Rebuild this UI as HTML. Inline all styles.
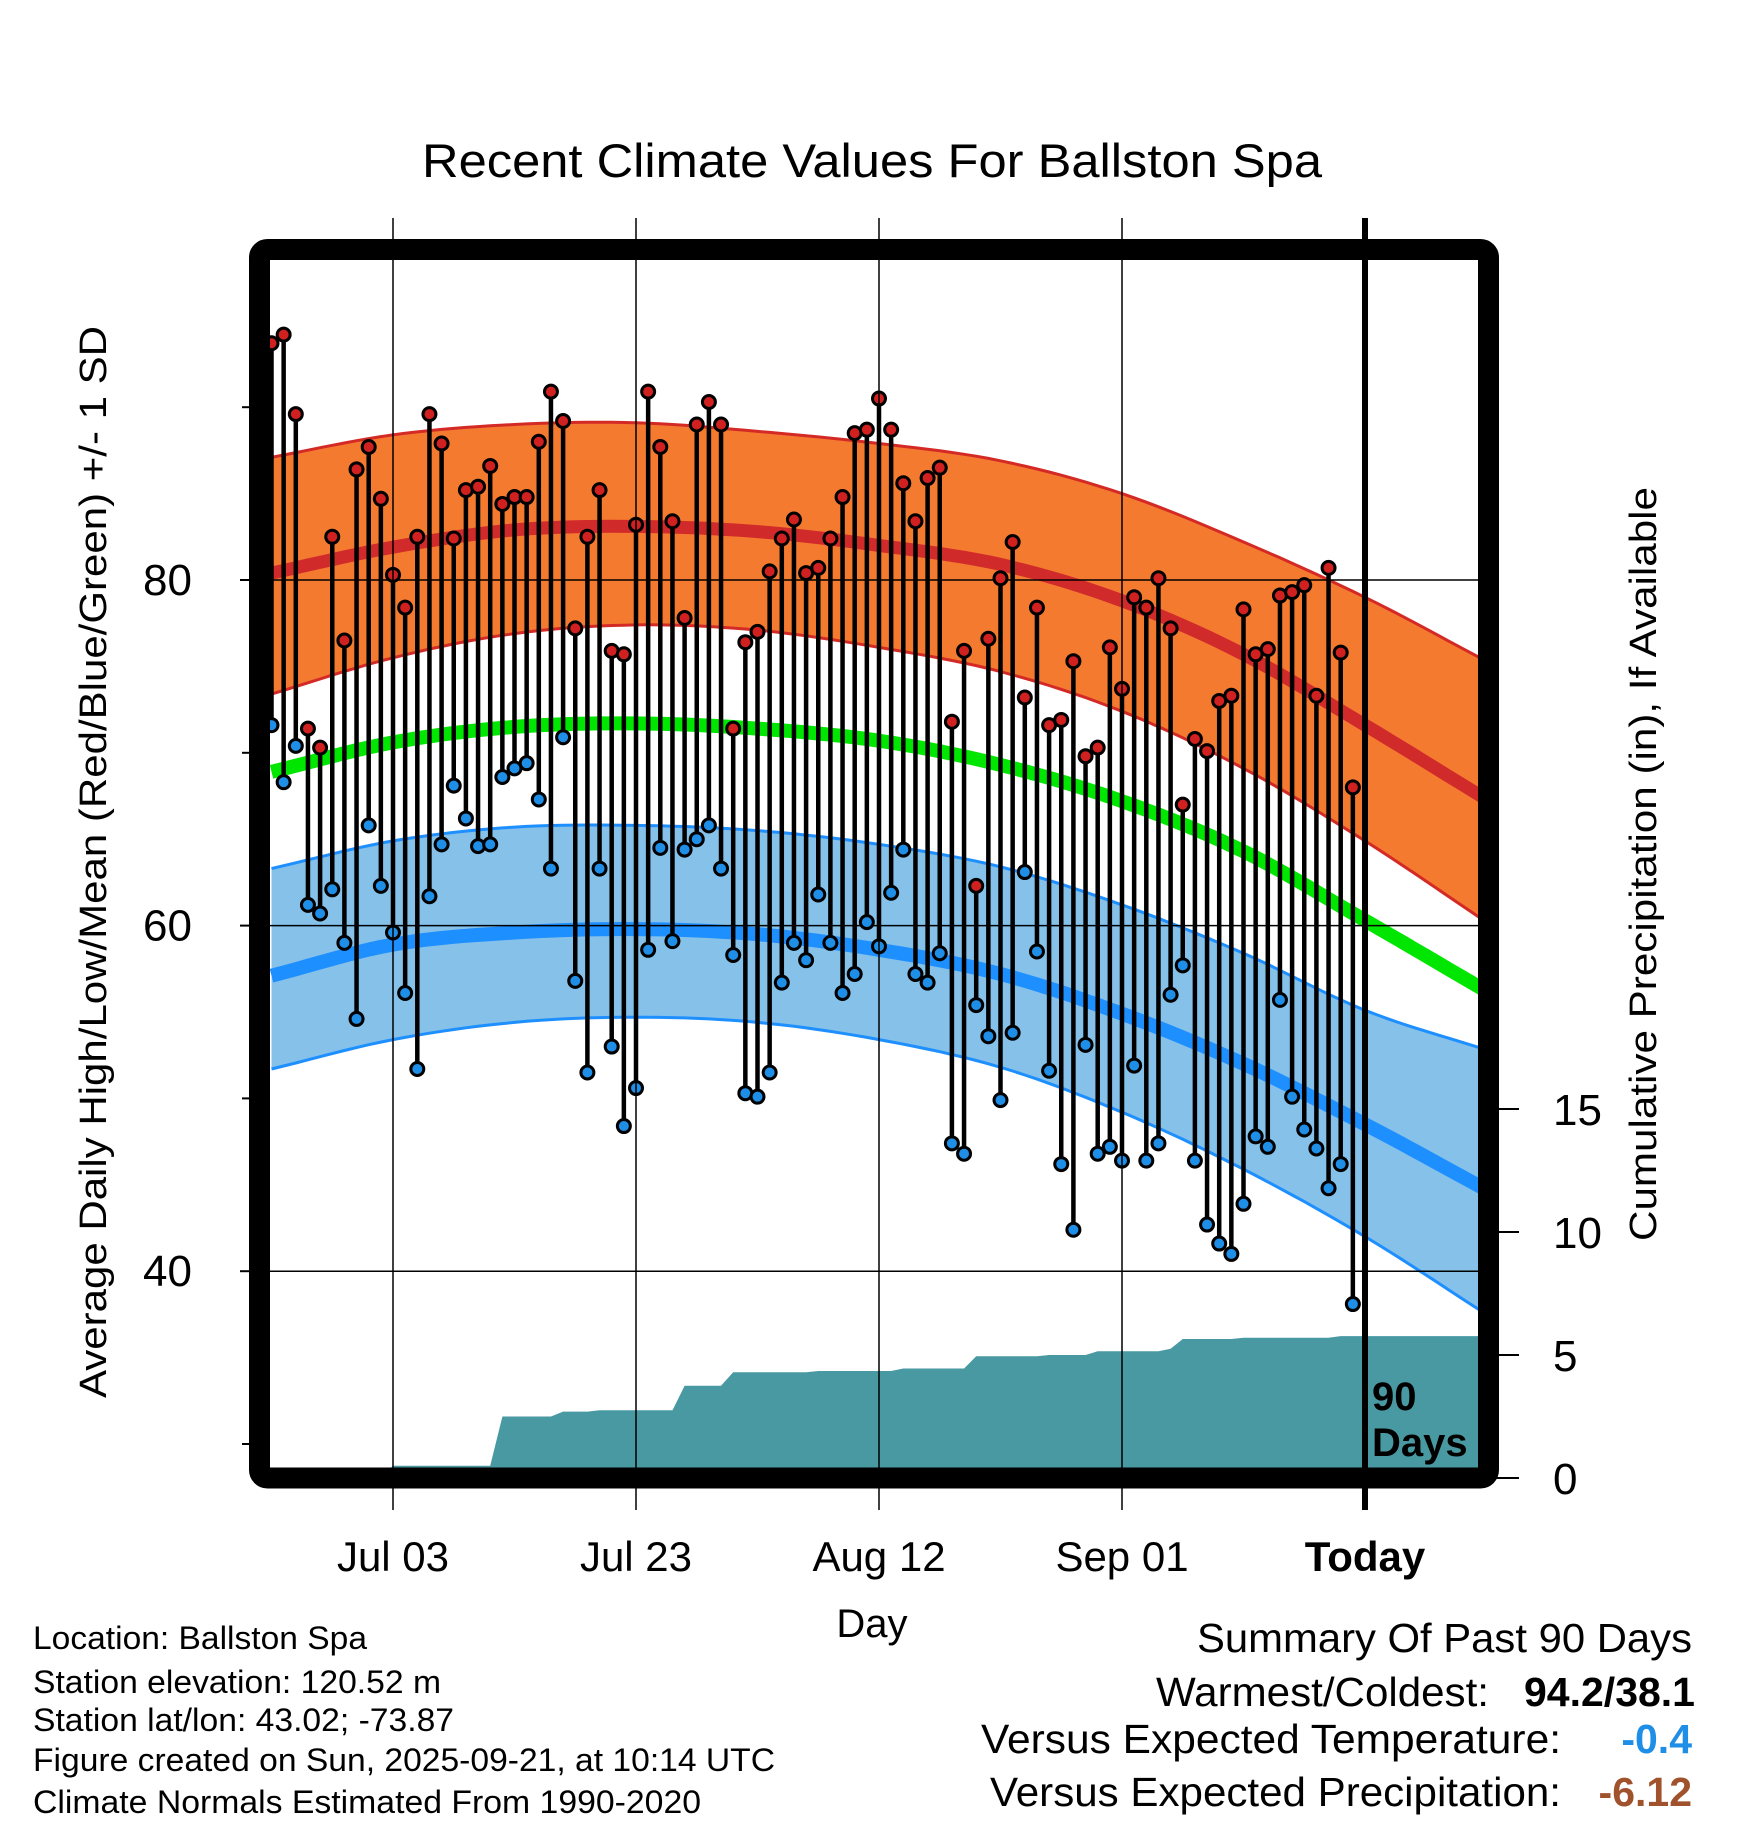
<!DOCTYPE html>
<html><head><meta charset="utf-8"><style>
html,body{margin:0;padding:0;background:#fff;}
svg{display:block;font-family:"Liberation Sans",sans-serif;}
</style></head><body>
<svg id="chart" width="1748" height="1828" viewBox="0 0 1748 1828" xmlns="http://www.w3.org/2000/svg">
<defs><clipPath id="plotclip"><rect x="270" y="260" width="1208" height="1208"/></clipPath></defs>
<rect width="1748" height="1828" fill="#fff"/>
<text x="872" y="177" font-size="47" text-anchor="middle" textLength="900" lengthAdjust="spacingAndGlyphs">Recent Climate Values For Ballston Spa</text>
<g id="plot" clip-path="url(#plotclip)"></g>
<g id="axes"></g>
<rect x="259.5" y="249.5" width="1229" height="1228.5" rx="8" fill="none" stroke="#000" stroke-width="21"/>
<g id="overlay"></g>
<text transform="translate(106,862) rotate(-90)" font-size="38" text-anchor="middle" textLength="1072" lengthAdjust="spacingAndGlyphs">Average Daily High/Low/Mean (Red/Blue/Green) +/- 1 SD</text>
<text transform="translate(1656,864) rotate(-90)" font-size="38" text-anchor="middle" textLength="754" lengthAdjust="spacingAndGlyphs">Cumulative Precipitation (in), If Available</text>
<text x="872" y="1637" font-size="40" text-anchor="middle">Day</text>
<g font-size="32">
<text x="33" y="1649" textLength="334" lengthAdjust="spacingAndGlyphs">Location: Ballston Spa</text>
<text x="33" y="1693" textLength="408" lengthAdjust="spacingAndGlyphs">Station elevation: 120.52 m</text>
<text x="33" y="1731" textLength="421" lengthAdjust="spacingAndGlyphs">Station lat/lon: 43.02; -73.87</text>
<text x="33" y="1771" textLength="742" lengthAdjust="spacingAndGlyphs">Figure created on Sun, 2025-09-21, at 10:14 UTC</text>
<text x="33" y="1813" textLength="668" lengthAdjust="spacingAndGlyphs">Climate Normals Estimated From 1990-2020</text>
</g>
<g font-size="41">
<text x="1197" y="1652" textLength="495" lengthAdjust="spacingAndGlyphs">Summary Of Past 90 Days</text>
<text x="1156" y="1706" textLength="333" lengthAdjust="spacingAndGlyphs">Warmest/Coldest:</text>
<text x="1524" y="1706" font-weight="bold" textLength="171" lengthAdjust="spacingAndGlyphs">94.2/38.1</text>
<text x="981" y="1753" textLength="580" lengthAdjust="spacingAndGlyphs">Versus Expected Temperature:</text>
<text x="1692" y="1753" text-anchor="end" font-weight="bold" fill="#1e8ee6">-0.4</text>
<text x="990" y="1806" textLength="571" lengthAdjust="spacingAndGlyphs">Versus Expected Precipitation:</text>
<text x="1692" y="1806" text-anchor="end" font-weight="bold" fill="#a0522d">-6.12</text>
</g>
</svg>
<script>
const highs=[93.7,94.2,89.6,71.4,70.3,82.5,76.5,86.4,87.7,84.7,80.3,78.4,82.5,89.6,87.9,82.4,85.2,85.4,86.6,84.4,84.8,84.8,88.0,90.9,89.2,77.2,82.5,85.2,75.9,75.7,83.2,90.9,87.7,83.4,77.8,89.0,90.3,89.0,71.4,76.4,77.0,80.5,82.4,83.5,80.4,80.7,82.4,84.8,88.5,88.7,90.5,88.7,85.6,83.4,85.9,86.5,71.8,75.9,62.3,76.6,80.1,82.2,73.2,78.4,71.6,71.9,75.3,69.8,70.3,76.1,73.7,79.0,78.4,80.1,77.2,67.0,70.8,70.1,73.0,73.3,78.3,75.7,76.0,79.1,79.3,79.7,73.3,80.7,75.8,68.0];
const lows=[71.6,68.3,70.4,61.2,60.7,62.1,59.0,54.6,65.8,62.3,59.6,56.1,51.7,61.7,64.7,68.1,66.2,64.6,64.7,68.6,69.1,69.4,67.3,63.3,70.9,56.8,51.5,63.3,53.0,48.4,50.6,58.6,64.5,59.1,64.4,65.0,65.8,63.3,58.3,50.3,50.1,51.5,56.7,59.0,58.0,61.8,59.0,56.1,57.2,60.2,58.8,61.9,64.4,57.2,56.7,58.4,47.4,46.8,55.4,53.6,49.9,53.8,63.1,58.5,51.6,46.2,42.4,53.1,46.8,47.2,46.4,51.9,46.4,47.4,56.0,57.7,46.4,42.7,41.6,41.0,43.9,47.8,47.2,55.7,50.1,48.2,47.1,44.8,46.2,38.1];
const dailyPrecip=[0,0,0,0,0,0,0,0,0,0,0.5,0,0,0,0,0,0,0,0,2.0,0,0,0,0,0.2,0,0,0.05,0,0,0,0,0,0,1.0,0,0,0,0.55,0,0,0,0,0,0,0.05,0,0,0,0,0,0,0.1,0,0,0,0,0,0.5,0,0,0,0,0,0.05,0,0,0,0.15,0,0,0,0,0,0.1,0.4,0,0,0,0,0.05,0,0,0,0,0,0,0,0.07,0];
const normDays=[0,10,20,30,40,50,60,70,80,90,100];
const normHigh=[80.4,81.9,82.9,83.1,82.8,82.0,80.9,78.8,75.7,71.6,67.3];
const normHighUp=[87.1,88.4,89.0,89.1,88.6,87.9,86.9,85.0,82.2,79.0,75.3];
const normHighLo=[73.4,75.5,76.9,77.4,77.1,76.1,74.7,72.4,69.1,64.9,60.2];
const normMean=[68.9,70.6,71.5,71.7,71.4,70.7,69.3,67.2,64.3,60.3,56.2];
const normLow=[57.1,58.9,59.6,59.8,59.5,58.6,57.2,54.9,52.0,48.5,44.7];
const normLowUp=[63.3,64.9,65.7,65.8,65.5,64.7,63.4,61.2,58.4,55.1,52.8];
const normLowLo=[51.7,53.4,54.4,54.7,54.4,53.4,51.8,49.2,45.9,42.0,37.5];
const xTickDays=[10,30,50,70,90];
const xTickLabels=["Jul 03","Jul 23","Aug 12","Sep 01","Today"];
const yMajor=[80,60,40];
const yMinor=[90,70,50,30];
const pTicks=[0,5,10,15];

const NS="http://www.w3.org/2000/svg";
const X=d=>271.5+d*12.15;
const Y=t=>580-(t-80)*17.28;
const YP=p=>1478-p*24.6;
function mk(tag,attrs,parent){const e=document.createElementNS(NS,tag);for(const k in attrs)e.setAttribute(k,attrs[k]);parent.appendChild(e);return e;}
function curve(vals){
  const n=vals.length,pts=[];
  const ext=i=>{if(i<0)return 2*vals[0]-vals[1];if(i>=n)return 2*vals[n-1]-vals[n-2];return vals[i];};
  for(let s=0;s<n-1;s++){
    const p0=ext(s-1),p1=vals[s],p2=vals[s+1],p3=ext(s+2);
    for(let k=0;k<10;k++){const t=k/10;
      const v=0.5*((2*p1)+(-p0+p2)*t+(2*p0-5*p1+4*p2-p3)*t*t+(-p0+3*p1-3*p2+p3)*t*t*t);
      pts.push([X(normDays[s]+t*(normDays[s+1]-normDays[s])),Y(v)]);}
  }
  pts.push([X(normDays[n-1]),Y(vals[n-1])]);
  return pts;
}
const ps=p=>p.map(q=>q[0].toFixed(1)+","+q[1].toFixed(1)).join(" ");
const plot=document.getElementById('plot');
const axes=document.getElementById('axes');
const overlay=document.getElementById('overlay');

function band(up,lo,fill,edge,name){
  const a=curve(up),b=curve(lo).reverse();
  const poly=mk('polygon',{points:ps(a.concat(b)),fill:fill},plot);
  
  
  const l1=mk('polyline',{points:ps(a),fill:'none',stroke:edge,'stroke-width':3},plot);
  
  
  const l2=mk('polyline',{points:ps(curve(lo)),fill:'none',stroke:edge,'stroke-width':3},plot);
  
  
}
band(normHighUp,normHighLo,'#f47a30','#d42a26','high-sd-band');
band(normLowUp,normLowLo,'#85c1e9','#1e8fff','low-sd-band');
function nline(vals,color,w,name){
  const l=mk('polyline',{points:ps(curve(vals)),fill:'none',stroke:color,'stroke-width':w},plot);
  
  
}
nline(normHigh,'#d12a2a',13,'normal-high-line');
nline(normMean,'#00e600',14,'normal-mean-line');
nline(normLow,'#1e8fff',14,'normal-low-line');

let cum=0;const pp=[];
dailyPrecip.forEach((v,i)=>{cum+=v;pp.push([X(i),YP(cum)]);});
pp.push([1480,YP(cum)]);
const area=mk('polygon',{points:ps([[X(0),YP(0)]].concat(pp,[[1480,YP(0)]])),fill:'#4899a2'},plot);



yMajor.forEach(t=>{
  const g=mk('line',{x1:270,x2:1478,y1:Y(t),y2:Y(t),stroke:'#000','stroke-width':1.5},plot);
  
  
});
xTickDays.forEach((d,i)=>{
  if(i===xTickDays.length-1)return;
  const g=mk('line',{x1:X(d),x2:X(d),y1:218,y2:1510,stroke:'#000','stroke-width':1.5},axes);
  
  
});

highs.forEach((h,i)=>{
  const s=mk('line',{x1:X(i),x2:X(i),y1:Y(h),y2:Y(lows[i]),stroke:'#000','stroke-width':4.5},plot);
  
  
});
highs.forEach((h,i)=>{
  const c=mk('circle',{cx:X(i),cy:Y(h),r:6.5,fill:'#d02020',stroke:'#000','stroke-width':3},plot);
  
  
  const c2=mk('circle',{cx:X(i),cy:Y(lows[i]),r:6.5,fill:'#1e8ee6',stroke:'#000','stroke-width':3},plot);
  
  
});

const td=xTickDays[xTickDays.length-1];
const tl=mk('line',{x1:X(td),x2:X(td),y1:218,y2:1510,stroke:'#000','stroke-width':6},overlay);


const t90=mk('text',{x:X(td)+7,y:1410,'font-size':40,'font-weight':'bold'},overlay);
t90.textContent='90';


const tdy=mk('text',{x:X(td)+7,y:1456,'font-size':40,'font-weight':'bold'},overlay);
tdy.textContent='Days';



xTickDays.forEach((d,i)=>{
  const t=mk('text',{x:X(d),y:1571,'font-size':42,'text-anchor':'middle'},overlay);
  if(i===xTickDays.length-1)t.setAttribute('font-weight','bold');
  t.textContent=xTickLabels[i];
  
  
});
yMajor.forEach(t=>{
  const l=mk('line',{x1:240,x2:252,y1:Y(t),y2:Y(t),stroke:'#000','stroke-width':2},overlay);
  
  
  const tx=mk('text',{x:192,y:Y(t)+15,'font-size':44,'text-anchor':'end'},overlay);
  tx.textContent=t;
  
  
});
yMinor.forEach(t=>{
  const l=mk('line',{x1:242,x2:252,y1:Y(t),y2:Y(t),stroke:'#000','stroke-width':2},overlay);
  
  
});
pTicks.forEach(p=>{
  const l=mk('line',{x1:1496,x2:1519,y1:YP(p),y2:YP(p),stroke:'#000','stroke-width':2},overlay);
  
  
  const tx=mk('text',{x:1553,y:YP(p)+16,'font-size':44},overlay);
  tx.textContent=p;
  
  
});
</script>
</body></html>
